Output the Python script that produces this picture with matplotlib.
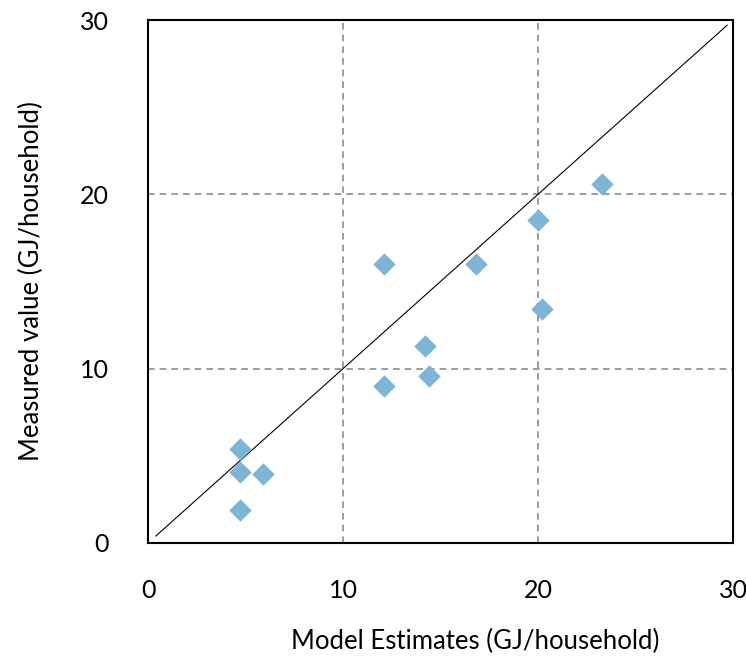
import matplotlib.pyplot as plt

# Model estimates vs measured values (GJ/household)
model_est = [23.3, 20.0, 12.1, 16.8, 20.2, 14.2, 14.4, 12.1, 4.7, 4.7, 5.9, 4.7]
measured = [20.6, 18.5, 16.0, 16.0, 13.4, 11.3, 9.6, 9.0, 5.4, 4.1, 3.95, 1.9]
ticks = [0, 10, 20, 30]
line_x = [0.4, 29.7]

plt.rcParams['font.family'] = ['Lato', 'DejaVu Sans']

fig = plt.figure(figsize=(7.46, 6.57), dpi=100)
ax = fig.add_axes([148 / 746, 1 - 543 / 657, 585 / 746, 523 / 657])

for v in [10, 20]:
    ax.axvline(v, color='#8c8c8c', linestyle=(0, (4, 3)), linewidth=1.2, zorder=1)
    ax.axhline(v, color='#8c8c8c', linestyle=(0, (4, 3)), linewidth=1.2, zorder=1)

ax.plot(line_x, line_x, color='black', linewidth=0.8, zorder=2)
ax.scatter(model_est, measured, marker='D', s=130, color='#7db5d6', zorder=3, linewidths=0)

ax.set_xlim(0, 30)
ax.set_ylim(0, 30)
ax.set_xticks(ticks)
ax.set_yticks(ticks)
ax.tick_params(length=0, labelsize=18)
ax.tick_params(axis='x', pad=26)
ax.tick_params(axis='y', pad=28)
for s in ax.spines.values():
    s.set_linewidth(1.5)

ax.set_xlabel('Model Estimates (GJ/household)', fontsize=18.5)
ax.xaxis.set_label_coords(0.56, -0.165)
ax.set_ylabel('Measured value (GJ/household)', fontsize=18.5, labelpad=26)

fig.savefig('out.png', dpi=100)
